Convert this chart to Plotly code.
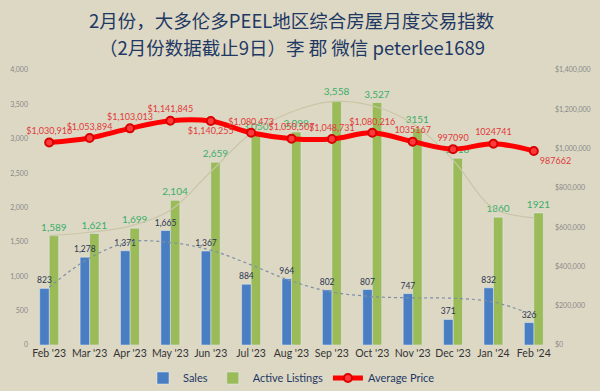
import plotly.graph_objects as go

months = ["Feb '23", "Mar '23", "Apr '23", "May '23", "Jun '23", "Jul '23", "Aug '23",
          "Sep '23", "Oct '23", "Nov '23", "Dec '23", "Jan '24", "Feb '24"]
sales = [823, 1278, 1371, 1665, 1367, 884, 964, 802, 807, 747, 371, 832, 326]
active = [1589, 1621, 1699, 2104, 2659, 3050, 3099, 3558, 3527, 3151, 2718, 1860, 1921]
price = [1030916, 1053894, 1103013, 1141845, 1140255, 1080473, 1050507, 1048731,
         1080216, 1035167, 997090, 1024741, 987662]
sales_trend = [840, 1265, 1500, 1490, 1380, 1165, 930, 770, 705, 685, 680, 625, 435]
active_trend = [1590, 1640, 1730, 1960, 2520, 3080, 3390, 3540, 3480, 3220, 2690, 1990, 1850]

title_lines = ["2月份，大多伦多PEEL地区综合房屋月度交易指数", "（2月份数据截止9日）李 郡 微信 peterlee1689"]

sales_text = [f"{v:,}" for v in sales]
active_text = [f"{v:,}" for v in active[:9]] + [str(v) for v in active[9:]]
price_text = [f"${v:,}" for v in price[:9]] + [str(v) for v in price[9:]]
price_pos = ["top center", "top center", "top center", "top center", "bottom center",
             "top center", "top center", "top center", "top center", "top center",
             "top center", "top center", "bottom right"]

BG = "#DDD8C4"
NAVY = "#1F3864"
BW = 0.235

fig = go.Figure()
fig.add_trace(go.Scatter(x=months, y=active_trend, mode="lines", line=dict(color="#C9C6A6", width=1.2, shape="spline"),
                         showlegend=False, hoverinfo="skip"))
fig.add_trace(go.Bar(x=months, y=active, name="Active Listings", marker_color="#9BBB59",
                     width=BW, offset=0, legendrank=2,
                     text=active_text, textposition="outside", cliponaxis=False, constraintext="none",
                     textfont=dict(size=10, color="#3AAE6A", family="Lato")))
fig.add_trace(go.Bar(x=months, y=sales, name="Sales", marker_color="#4A7EC2",
                     width=BW, offset=-BW, legendrank=1,
                     text=sales_text, textposition="outside", cliponaxis=False, constraintext="none",
                     textfont=dict(size=8.5, color="#2A3550", family="Lato")))
fig.add_trace(go.Scatter(x=months, y=sales_trend, mode="lines", line=dict(color="#7C8FA6", width=1.2, dash="dot", shape="spline"),
                         showlegend=False, hoverinfo="skip"))
fig.add_trace(go.Scatter(x=months, y=price, name="Average Price", yaxis="y2", mode="lines+markers+text",
                         legendrank=3,
                         line=dict(color="#FF0000", width=5, shape="spline"),
                         marker=dict(size=8, color="#FF3A3A", line=dict(color="#D80000", width=2)),
                         text=price_text, textposition=price_pos, cliponaxis=False,
                         textfont=dict(size=9, color="#E03A3A", family="Lato")))

for line, yy in zip(title_lines, [1.182, 1.084]):
    fig.add_annotation(text=line, x=0.5, xref="paper", y=yy, yref="paper", xanchor="center", yanchor="middle",
                       showarrow=False, font=dict(family="Noto Sans CJK SC", size=18.5, color=NAVY))

fig.update_layout(
    width=600, height=391,
    paper_bgcolor=BG, plot_bgcolor=BG,
    margin=dict(l=29, r=46, t=70, b=46, autoexpand=False),
    barmode="overlay",
    font=dict(family="Lato"),
    xaxis=dict(range=[-0.5, len(months) - 0.5], showgrid=False, tickangle=0,
               tickfont=dict(size=10.5, color="#333333", family="Lato"),
               showline=False, ticks="", automargin=False),
    yaxis=dict(range=[0, 4000], dtick=500, tickformat=",", showgrid=False, zeroline=False,
               tickfont=dict(size=7, color="#888888"), automargin=False),
    yaxis2=dict(range=[0, 1400000], dtick=200000, tickformat="$,", overlaying="y", side="right",
                showgrid=False, zeroline=False, tickfont=dict(size=7, color="#888888"), automargin=False),
    legend=dict(orientation="h", x=0.5, xanchor="center", y=-0.12, yanchor="middle",
                font=dict(size=11, color=NAVY), bgcolor="rgba(0,0,0,0)", itemwidth=30),
)

fig.write_html("out.html", config={"displayModeBar": False},
               post_script="document.body.style.margin='0';document.body.style.background='#DDD8C4';")
